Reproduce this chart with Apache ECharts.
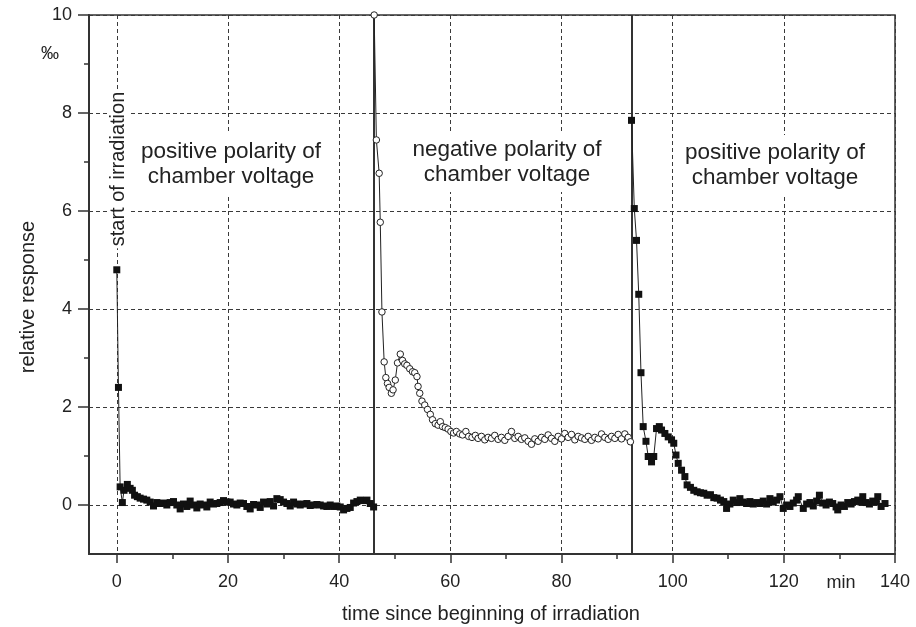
<!DOCTYPE html>
<html>
<head>
<meta charset="utf-8">
<script src="https://cdn.jsdelivr.net/npm/echarts@6/dist/echarts.min.js"></script>
<style>
html,body{margin:0;padding:0;background:#fff;}
#chart{width:916px;height:627px;}
</style>
</head>
<body>
<div id="chart"></div>
<script>
// ---- data (time in min, relative response in per mille) ----
const positiveFirst = [
[0,4.8],[0.3,2.4],[0.6,0.37],[1.0,0.05],[1.3,0.3],[1.9,0.42],[2.4,0.34],[2.8,0.3],[3.2,0.2],[3.7,0.17],
[4.2,0.14],[4.8,0.12],[5.4,0.1],[6.0,0.06],[6.6,-0.02],[7.2,0.05],[7.8,0.03],[8.4,0.04],[9.0,0.0],[9.6,0.05],
[10.2,0.07],[10.8,0.0],[11.4,-0.08],[12.0,0.02],[12.6,-0.03],[13.2,0.08],[13.8,0.0],[14.4,-0.06],[15.0,0.02],[15.6,0.0],
[16.2,-0.04],[16.8,0.06],[17.4,0.02],[18.0,0.03],[18.6,0.05],[19.2,0.09],[19.8,0.06],[20.4,0.06],[21.0,0.02],[21.6,0.0],
[22.2,0.04],[22.8,0.03],[23.4,-0.03],[24.0,-0.08],[24.6,0.01],[25.2,0.0],[25.8,-0.05],[26.4,0.06],[27.0,0.02],[27.6,0.07],
[28.2,-0.02],[28.8,0.13],[29.4,0.11],[30.0,0.06],[30.6,0.03],[31.2,-0.02],[31.8,0.06],[32.4,0.02],[33.0,0.0],[33.6,0.02],
[34.2,0.03],[34.8,-0.01],[35.4,0.0],[36.0,0.01],[36.6,0.0],[37.2,-0.02],[37.8,-0.03],[38.4,0.0],[39.0,-0.03],[39.6,-0.02],
[40.2,-0.04],[40.8,-0.1],[41.4,-0.07],[42.0,-0.05],[42.6,0.04],[43.2,0.07],[43.8,0.1],[44.4,0.09],[45.0,0.1],[45.6,0.03],[46.2,-0.04]
];
const negativePolarity = [
[46.3,10],[46.7,7.45],[47.2,6.77],[47.4,5.77],[47.7,3.94],[48.1,2.92],[48.4,2.6],[48.7,2.48],[49.0,2.4],[49.4,2.28],
[49.7,2.35],[50.1,2.55],[50.5,2.9],[51.0,3.08],[51.4,2.95],[51.8,2.88],[52.2,2.85],[52.7,2.78],[53.2,2.72],[53.6,2.7],
[54.0,2.62],[54.2,2.42],[54.5,2.28],[54.9,2.12],[55.4,2.04],[55.9,1.95],[56.4,1.85],[56.8,1.74],[57.3,1.66],[57.8,1.63],
[58.2,1.7],[58.6,1.6],[59.1,1.58],[59.6,1.55],[60.1,1.5],[60.6,1.47],[61.1,1.5],[61.7,1.45],[62.2,1.43],[62.8,1.5],
[63.3,1.4],[63.9,1.38],[64.5,1.42],[65.0,1.36],[65.6,1.4],[66.2,1.33],[66.8,1.38],[67.4,1.36],[68.0,1.42],[68.6,1.34],
[69.2,1.38],[69.8,1.32],[70.4,1.4],[71.0,1.5],[71.6,1.36],[72.2,1.4],[72.8,1.34],[73.4,1.37],[74.0,1.3],[74.6,1.24],
[75.2,1.35],[75.8,1.3],[76.4,1.38],[77.0,1.34],[77.6,1.43],[78.2,1.36],[78.8,1.3],[79.4,1.4],[80.0,1.35],[80.6,1.46],
[81.2,1.38],[81.8,1.44],[82.4,1.33],[83.0,1.4],[83.6,1.37],[84.2,1.34],[84.8,1.4],[85.4,1.32],[86.0,1.38],[86.6,1.35],
[87.2,1.45],[87.8,1.38],[88.4,1.34],[89.0,1.4],[89.6,1.36],[90.2,1.44],[90.8,1.35],[91.4,1.45],[92.0,1.38],[92.4,1.29]
];
const positiveSecond = [
[92.6,7.85],[93.1,6.05],[93.5,5.4],[93.9,4.3],[94.3,2.7],[94.7,1.6],[95.2,1.3],[95.6,0.99],[96.2,0.88],[96.6,0.99],
[97.1,1.56],[97.6,1.6],[98.0,1.53],[98.6,1.46],[99.2,1.39],[99.8,1.33],[100.2,1.26],[100.6,1.02],[101.0,0.85],[101.6,0.71],
[102.2,0.58],[102.6,0.41],[103.2,0.36],[103.8,0.3],[104.4,0.27],[105.0,0.25],[105.6,0.24],[106.2,0.2],[106.8,0.21],[107.4,0.15],
[108.0,0.14],[108.6,0.1],[109.2,0.07],[109.7,-0.07],[110.3,0.02],[110.9,0.1],[111.5,0.05],[112.1,0.13],[112.7,0.06],[113.3,0.03],
[113.9,0.07],[114.5,0.02],[115.1,0.05],[115.7,0.03],[116.3,0.08],[116.9,0.02],[117.5,0.13],[118.1,0.06],[118.7,0.1],[119.3,0.17],
[119.9,-0.07],[120.5,0.0],[121.1,-0.03],[121.7,0.04],[122.3,0.1],[122.6,0.17],[123.5,-0.07],[124.1,0.02],[124.7,0.05],[125.3,-0.02],
[125.9,0.08],[126.4,0.2],[127.0,0.04],[127.6,0.0],[128.2,0.06],[128.8,0.03],[129.4,-0.04],[129.7,-0.1],[130.3,0.0],[130.9,-0.03],
[131.5,0.05],[132.1,0.02],[132.7,0.07],[133.3,0.1],[133.9,0.06],[134.2,0.17],[134.8,0.05],[135.4,0.02],[136.0,0.08],[136.6,0.06],
[136.9,0.17],[137.5,-0.03],[138.2,0.03]
];
const polaritySwitchTimes = [46.3, 92.6];
const xTickRange = [0, 140, 20];   // min, max, interval of labelled ticks
const yTickRange = [0, 10, 2];
const frameX = [-5, 140];
const frameY = [-1, 10];

// ---- layout ----
const L = 89, R = 895, T = 15, B = 554;
const FONT = "'Liberation Sans', Arial, Helvetica, sans-serif";
const TXT = '#222';
const AX = '#333';
const gridX0 = L + (xTickRange[0] - frameX[0]) / (frameX[1] - frameX[0]) * (R - L);
const gridYBottom = T + (frameY[1] - yTickRange[0]) / (frameY[1] - frameY[0]) * (B - T);

const chart = echarts.init(document.getElementById('chart'), null, {renderer: 'canvas'});
const dashed = {show: true, lineStyle: {color: '#3a3a3a', width: 1, type: [4, 3]}};

function textEl(text, x, y, size, opts) {
  opts = opts || {};
  return Object.assign({
    type: 'text', x: x, y: y, z: 100,
    style: Object.assign({
      text: text, fill: TXT, font: size + 'px ' + FONT,
      textAlign: 'center', align: 'center',
      textVerticalAlign: 'middle', verticalAlign: 'middle'
    }, opts.style || {})
  }, opts.el || {});
}

const option = {
  animation: false,
  backgroundColor: '#fff',
  grid: [
    {left: L, top: T, width: R - L, height: B - T, show: true, borderColor: AX, borderWidth: 1.5, backgroundColor: 'transparent'},
    {left: gridX0, top: T, width: R - gridX0, height: B - T},
    {left: L, top: T, width: R - L, height: gridYBottom - T}
  ],
  xAxis: [
    {gridIndex: 0, type: 'value', min: frameX[0], max: frameX[1],
     axisLine: {show: true, onZero: false, lineStyle: {color: AX, width: 2}}, axisTick: {show: false},
     axisLabel: {show: false}, splitLine: {show: false}},
    {gridIndex: 1, type: 'value', min: xTickRange[0], max: xTickRange[1], interval: xTickRange[2],
     axisLine: {show: false, onZero: false},
     axisTick: {show: true, inside: false, length: 9, lineStyle: {color: AX, width: 1.5}},
     minorTick: {show: true, splitNumber: 2, length: 5, lineStyle: {color: AX, width: 1.5}},
     axisLabel: {show: true, margin: 19, color: TXT, fontSize: 18, fontFamily: FONT},
     splitLine: dashed},
    {gridIndex: 2, type: 'value', min: 0, max: 1, show: false}
  ],
  yAxis: [
    {gridIndex: 0, type: 'value', min: frameY[0], max: frameY[1],
     axisLine: {show: true, onZero: false, lineStyle: {color: AX, width: 2}}, axisTick: {show: false},
     axisLabel: {show: false}, splitLine: {show: false}},
    {gridIndex: 1, type: 'value', min: 0, max: 1, show: false},
    {gridIndex: 2, type: 'value', min: yTickRange[0], max: yTickRange[1], interval: yTickRange[2],
     axisLine: {show: false, onZero: false},
     axisTick: {show: true, inside: false, length: 11, lineStyle: {color: AX, width: 1.5}},
     minorTick: {show: true, splitNumber: 2, length: 5, lineStyle: {color: AX, width: 1.5}},
     axisLabel: {show: true, margin: 17, color: TXT, fontSize: 18, fontFamily: FONT},
     splitLine: dashed}
  ],
  series: [
    {type: 'line', xAxisIndex: 0, yAxisIndex: 0, data: positiveFirst, clip: false,
     symbol: 'rect', symbolSize: 7, itemStyle: {color: '#111'},
     lineStyle: {color: '#222', width: 1}, z: 5},
    {type: 'line', xAxisIndex: 0, yAxisIndex: 0, data: negativePolarity, clip: false,
     symbol: 'circle', symbolSize: 6.5, itemStyle: {color: '#fff', borderColor: '#222', borderWidth: 1},
     lineStyle: {color: '#222', width: 1}, z: 5,
     markLine: {silent: true, symbol: 'none', label: {show: false},
       lineStyle: {color: AX, width: 2, type: 'solid'},
       data: polaritySwitchTimes.map(function (t) { return {xAxis: t}; })}},
    {type: 'line', xAxisIndex: 0, yAxisIndex: 0, data: positiveSecond, clip: false,
     symbol: 'rect', symbolSize: 7, itemStyle: {color: '#111'},
     lineStyle: {color: '#222', width: 1}, z: 5}
  ],
  graphic: [
    textEl('time since beginning of irradiation', 491, 614, 20),
    textEl('relative response', 28, 297, 20, {el: {rotation: Math.PI / 2}}),
    textEl('‰', 50, 54, 18),
    textEl('min', 841, 583, 18),
    textEl('start of irradiation', 118, 169, 20, {el: {rotation: Math.PI / 2}, style: {backgroundColor: '#fff', padding: [0, 2]}}),
    textEl('positive polarity of\nchamber voltage', 231, 164, 22.5, {style: {lineHeight: 25, backgroundColor: '#fff', padding: [5, 3]}}),
    textEl('negative polarity of\nchamber voltage', 507, 162, 22.5, {style: {lineHeight: 25, backgroundColor: '#fff', padding: [5, 3]}}),
    textEl('positive polarity of\nchamber voltage', 775, 165, 22.5, {style: {lineHeight: 25, backgroundColor: '#fff', padding: [5, 3]}})
  ]
};
chart.setOption(option);
</script>
</body>
</html>
